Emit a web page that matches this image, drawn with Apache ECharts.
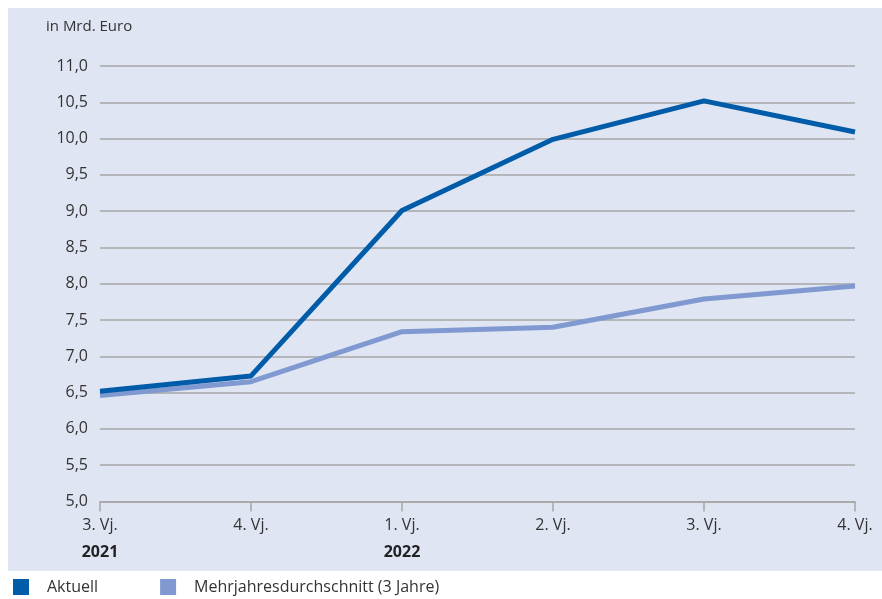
<!DOCTYPE html>
<html>
<head>
<meta charset="utf-8">
<script src="https://cdn.jsdelivr.net/npm/echarts@6/dist/echarts.min.js"></script>
<style>
  html, body { margin: 0; padding: 0; background: #ffffff; }
  #chart { width: 882px; height: 599px; }
</style>
</head>
<body>
<div id="chart"></div>
<script>
// Quartals-Kategorien und Jahresbeschriftung
const quarters = ['3. Vj.', '4. Vj.', '1. Vj.', '2. Vj.', '3. Vj.', '4. Vj.'];
const years = ['2021', '', '2022', '', '', ''];

// Werte in Mrd. Euro
const aktuell = [6.52, 6.73, 9.01, 9.99, 10.52, 10.09];
const mehrjahr = [6.46, 6.65, 7.34, 7.40, 7.79, 7.97];

// Achsenbereich
const yMin = 5, yMax = 11, yStep = 0.5;

const FONT = '"Open Sans", sans-serif';
const TEXT = '#333333';
const GRID = '#a6a6a6';
const C_AKT = '#005ca9';
const C_MJ = '#8099d0';

const chart = echarts.init(document.getElementById('chart'));

chart.setOption({
  animation: false,
  textStyle: { fontFamily: FONT },
  graphic: [
    {
      type: 'rect',
      z: -10,
      shape: { x: 8, y: 8, width: 874, height: 563 },
      style: { fill: '#dfe5f2' },
      silent: true
    },
    {
      type: 'text',
      left: 46,
      top: 19,
      style: { text: 'in Mrd. Euro', fill: TEXT, font: '15px ' + FONT }
    }
  ],
  legend: {
    left: 8,
    top: 574,
    icon: 'rect',
    itemWidth: 16,
    itemHeight: 16,
    itemGap: 62,
    data: ['Aktuell', 'Mehrjahresdurchschnitt (3 Jahre)'],
    textStyle: { color: TEXT, fontSize: 16, fontFamily: FONT, padding: [0, 0, 0, 13] }
  },
  grid: { left: 100, right: 27, top: 66, bottom: 97.5 },
  xAxis: {
    type: 'category',
    boundaryGap: false,
    data: quarters.map((q, i) => i),
    axisLine: { lineStyle: { color: GRID, width: 1.5 } },
    axisTick: { length: 10, lineStyle: { color: GRID, width: 1.5 } },
    axisLabel: {
      margin: 10,
      formatter: function (v) {
        const i = Number(v);
        return years[i] ? quarters[i] + '\n{y|' + years[i] + '}' : quarters[i];
      },
      color: TEXT,
      fontSize: 16,
      lineHeight: 27,
      fontFamily: FONT,
      rich: {
        y: { fontWeight: 'bold', fontSize: 16, color: '#222222', lineHeight: 27, fontFamily: FONT }
      }
    }
  },
  yAxis: {
    type: 'value',
    min: yMin,
    max: yMax,
    interval: yStep,
    axisLine: { show: false },
    axisTick: { show: false },
    splitLine: { lineStyle: { color: GRID, width: 1.5 } },
    axisLabel: {
      margin: 12,
      color: TEXT,
      fontSize: 16,
      fontFamily: FONT,
      formatter: v => v.toFixed(1).replace('.', ',')
    }
  },
  series: [
    {
      name: 'Mehrjahresdurchschnitt (3 Jahre)',
      type: 'line',
      data: mehrjahr,
      color: C_MJ,
      symbol: 'none',
      z: 2,
      lineStyle: { width: 5, color: C_MJ }
    },
    {
      name: 'Aktuell',
      type: 'line',
      data: aktuell,
      color: C_AKT,
      symbol: 'none',
      z: 3,
      lineStyle: { width: 5, color: C_AKT }
    }
  ]
});
</script>
</body>
</html>
